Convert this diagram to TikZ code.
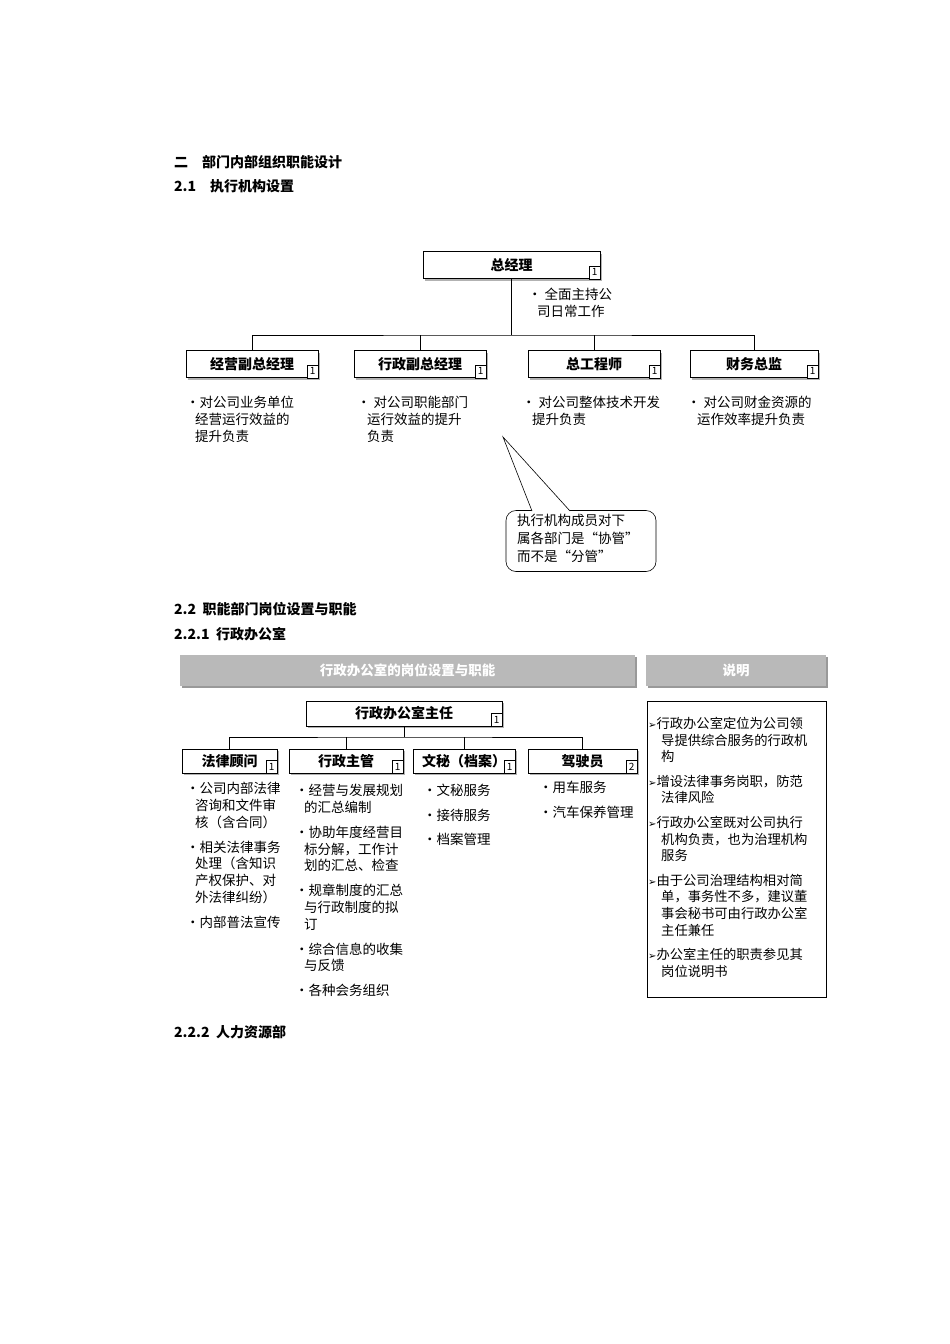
\documentclass[tikz,border=0pt]{standalone}
\usepackage{fontspec}
\setmainfont{Noto Sans CJK SC}
\newfontfamily\djv{DejaVu Sans}
\newcommand{\arr}{{\djv\fontsize{10}{10}\selectfont ➢}}
\usetikzlibrary{shadows}
\begin{document}
\begin{tikzpicture}[x=1pt,y=-1pt,
  org/.style={draw,fill=white,line width=0.8pt,minimum height=27pt,font=\bfseries\fontsize{14}{14}\selectfont,inner sep=0pt,
    drop shadow={shadow xshift=2pt,shadow yshift=-2pt,fill=gray!60,opacity=1}},
  badge/.style={draw,fill=white,font=\fontsize{10}{10}\selectfont,inner sep=0.5pt,minimum width=11pt,minimum height=13pt,anchor=south east},
  txt/.style={anchor=north west,align=left,inner sep=0pt,font=\fontsize{13.5}{16.8}\selectfont},
  head/.style={anchor=west,inner sep=0pt,font=\bfseries\fontsize{14}{14}\selectfont},
  bar/.style={fill=gray!55,text=white,font=\bfseries\fontsize{13.5}{13.5}\selectfont,minimum height=31pt,inner sep=0pt,
    drop shadow={shadow xshift=2pt,shadow yshift=-2pt,fill=gray!80,opacity=1}},
  ln/.style={line width=0.7pt}]
\useasboundingbox (0,0) rectangle (950,1344);
\fill[white] (0,0) rectangle (950,1344);
\node[head] (h1) at (174,162) {二\quad 部门内部组织职能设计};
\node[head] (h2) at (174,186) {2.1\quad 执行机构设置};
% top chart
\node[org,minimum width=177pt] (gm) at (511.5,265) {总经理};
\node[org,minimum width=132pt] (a) at (252,364) {经营副总经理};
\node[org,minimum width=132pt] (b) at (420,364) {行政副总经理};
\node[org,minimum width=132pt] (c) at (594,364) {总工程师};
\node[org,minimum width=128pt] (d) at (754,364) {财务总监};
\foreach \n in {gm,a,b,c,d}{\node[badge] at (\n.south east) {1};}
\coordinate (j) at (511.5,335);
\draw[ln] (gm.south) -- (j);
\draw[ln] (a.north) |- (j) -| (d.north);
\draw[ln] (b.north) -- (b.north|-j);
\draw[ln] (c.north) -- (c.north|-j);
\node[txt] (gt) at (528,288) {• 全面主持公\\\hspace{9pt}司日常工作};
\node[txt] (at) at (186,396) {•对公司业务单位\\\hspace{9pt}经营运行效益的\\\hspace{9pt}提升负责};
\node[txt] (bt) at (357,396) {• 对公司职能部门\\\hspace{10pt}运行效益的提升\\\hspace{10pt}负责};
\node[txt] (ct) at (522,396) {• 对公司整体技术开发\\\hspace{10pt}提升负责};
\node[txt] (dt) at (687,396) {• 对公司财金资源的\\\hspace{10pt}运作效率提升负责};
\node[draw,rounded corners=10pt,minimum width=150pt,minimum height=61pt,fill=white,line width=0.6pt] (cb) at (581,541) {};
\draw[line width=0.6pt,fill=white] (532,511) -- (503,437) -- (570,511);
\node[txt,font=\fontsize{13.5}{18}\selectfont] (cbt) at (517,514) {执行机构成员对下\\属各部门是“协管”\\而不是“分管”};
% section 2.2
\node[head] (h3) at (174,609) {2.2\ \ 职能部门岗位设置与职能};
\node[head] (h4) at (174,634) {2.2.1\ \ 行政办公室};
\node[bar,minimum width=455pt] (bar1) at (407.5,670.5) {行政办公室的岗位设置与职能};
\node[bar,minimum width=180pt] (bar2) at (736,670.5) {说明};
\node[org,minimum width=196pt,minimum height=25pt] (m) at (404,713.5) {行政办公室主任};
\node[org,minimum width=95pt,minimum height=24pt] (p1) at (229.5,761) {法律顾问};
\node[org,minimum width=114pt,minimum height=24pt] (p2) at (346,761) {行政主管};
\node[org,minimum width=102pt,minimum height=24pt] (p3) at (464,761) {文秘（档案）};
\node[org,minimum width=109pt,minimum height=24pt] (p4) at (582.5,761) {驾驶员};
\foreach \n in {m,p1,p2,p3}{\node[badge] at (\n.south east) {1};}
\node[badge] at (p4.south east) {2};
\coordinate (j2) at (404,737);
\draw[ln] (m.south) -- (j2);
\draw[ln] (p1.north) |- (j2) -| (p4.north);
\draw[ln] (p2.north) -- (p2.north|-j2);
\draw[ln] (p3.north) -- (p3.north|-j2);
\node[txt] (t1) at (186,782) {•公司内部法律\\\hspace{9pt}咨询和文件审\\\hspace{9pt}核（含合同）\\[8pt]•相关法律事务\\\hspace{9pt}处理（含知识\\\hspace{9pt}产权保护、对\\\hspace{9pt}外法律纠纷）\\[8pt]•内部普法宣传};
\node[txt] (t2) at (295,784) {•经营与发展规划\\\hspace{9pt}的汇总编制\\[8pt]•协助年度经营目\\\hspace{9pt}标分解，工作计\\\hspace{9pt}划的汇总、检查\\[8pt]•规章制度的汇总\\\hspace{9pt}与行政制度的拟\\\hspace{9pt}订\\[8pt]•综合信息的收集\\\hspace{9pt}与反馈\\[8pt]•各种会务组织};
\node[txt,font=\fontsize{13.5}{24.5}\selectfont] (t3) at (423,784) {•文秘服务\\•接待服务\\•档案管理};
\node[txt,font=\fontsize{13.5}{24.5}\selectfont] (t4) at (539,781) {•用车服务\\•汽车保养管理};
\node[draw,line width=0.8pt,minimum width=179pt,minimum height=296pt,inner sep=0pt] (nb) at (736.5,849) {};
\node[txt,font=\fontsize{13.3}{16.6}\selectfont] (nt) at (648,717) {\arr 行政办公室定位为公司领\\\hspace{13pt}导提供综合服务的行政机\\\hspace{13pt}构\\[8pt]\arr 增设法律事务岗职，防范\\\hspace{13pt}法律风险\\[8pt]\arr 行政办公室既对公司执行\\\hspace{13pt}机构负责，也为治理机构\\\hspace{13pt}服务\\[8pt]\arr 由于公司治理结构相对简\\\hspace{13pt}单，事务性不多，建议董\\\hspace{13pt}事会秘书可由行政办公室\\\hspace{13pt}主任兼任\\[8pt]\arr 办公室主任的职责参见其\\\hspace{13pt}岗位说明书};
\node[head] (h5) at (174,1032) {2.2.2\ \ 人力资源部};
\end{tikzpicture}
\end{document}
